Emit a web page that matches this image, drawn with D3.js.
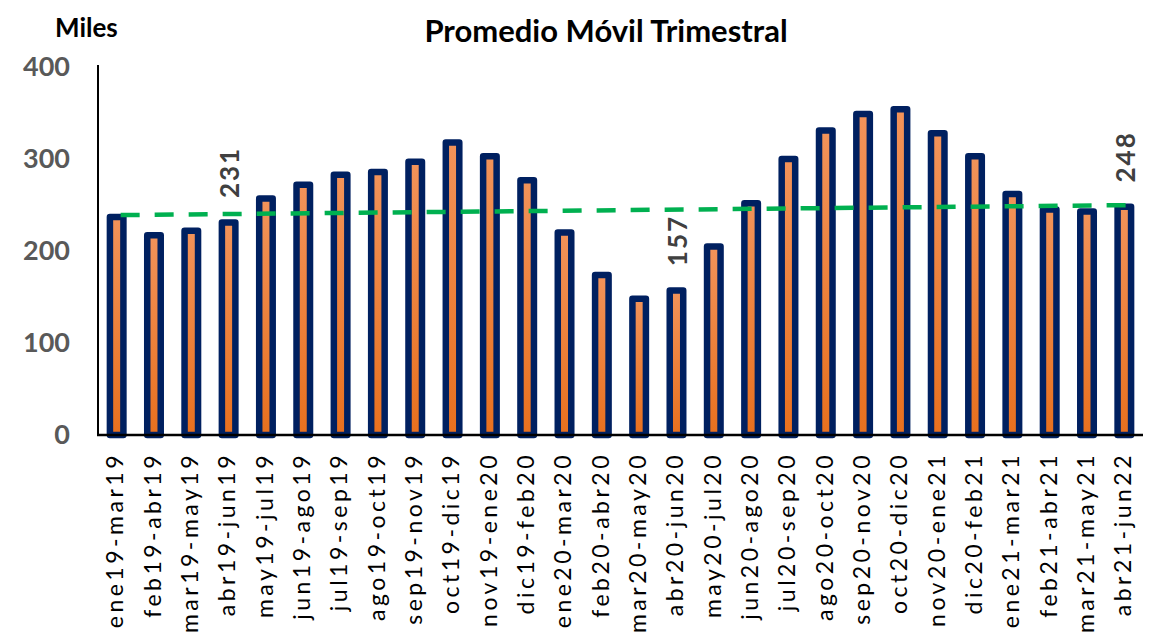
<!DOCTYPE html>
<html><head><meta charset="utf-8">
<script src="https://cdn.jsdelivr.net/npm/d3@7"></script>
<style>body{margin:0;background:#fff}svg{display:block}</style>
</head><body><svg id="c" width="1153" height="639"></svg>
<script>
const categories = ["ene19-mar19","feb19-abr19","mar19-may19","abr19-jun19","may19-jul19","jun19-ago19","jul19-sep19","ago19-oct19","sep19-nov19","oct19-dic19","nov19-ene20","dic19-feb20","ene20-mar20","feb20-abr20","mar20-may20","abr20-jun20","may20-jul20","jun20-ago20","jul20-sep20","ago20-oct20","sep20-nov20","oct20-dic20","nov20-ene21","dic20-feb21","ene21-mar21","feb21-abr21","mar21-may21","abr21-jun22"];
const values = [237,217,222,231,257,272,283,286,297,318,303,277,220,174,148,157,205,252,300,331,349,354,328,303,262,245,243,248];
const labeledCategories = ["abr19-jun19","abr20-jun20","abr21-jun22"];
const labeledValues = [231,157,248];
const trendCategories = ["ene19-mar19","abr21-jun22"];
const trendValues = [239,250];
const yTicks = [0,100,200,300,400];
const title = "Promedio Móvil Trimestral";
const unitLabel = "Miles";

const svg = d3.select("#c");
const x = d3.scaleBand().domain(categories).range([98,1143]).paddingInner(0).paddingOuter(0);
const y = d3.scaleLinear().domain([0,400]).range([435,67]);
const font = "Lato, 'Open Sans', sans-serif";

const defs = svg.append("defs");
const g = defs.append("linearGradient").attr("id","og").attr("x1",0).attr("y1",0).attr("x2",0).attr("y2",1);
g.append("stop").attr("offset","0%").attr("stop-color","#F2935A");
g.append("stop").attr("offset","100%").attr("stop-color","#E8701E");

// title
svg.append("text").attr("x",606).attr("y",42).attr("text-anchor","middle")
  .style("font-family",font).style("font-weight","bold").style("font-size","31px")
  .attr("fill","#000").text(title);
svg.append("text").attr("x",55).attr("y",37)
  .style("font-family",font).style("font-weight","bold").style("font-size","26px")
  .attr("fill","#000").text(unitLabel);

// y tick labels
svg.append("g").selectAll("text").data(yTicks).join("text")
  .attr("x",70).attr("y",d=>y(d)+2).attr("text-anchor","end").attr("dominant-baseline","middle")
  .style("font-family",font).style("font-weight","bold").style("font-size","27px")
  .attr("fill","#595959").text(d=>d);

// bars
const bw = 13.5;
svg.append("g").selectAll("rect").data(categories).join("rect")
  .attr("x",(d)=>x(d)+x.bandwidth()/2-bw/2)
  .attr("y",(d,i)=>y(values[i]))
  .attr("width",bw)
  .attr("height",(d,i)=>y(0)-y(values[i]))
  .attr("fill","url(#og)").attr("stroke","#002060").attr("stroke-width",6.5)
  .attr("stroke-linejoin","round");

// axes lines
svg.append("line").attr("x1",98).attr("x2",98).attr("y1",65).attr("y2",436).attr("stroke","#000").attr("stroke-width",2);
svg.append("line").attr("x1",97).attr("x2",1143).attr("y1",435).attr("y2",435).attr("stroke","#000").attr("stroke-width",2.5);

// trend line
const tx = c => x(c)+x.bandwidth()/2;
svg.append("line")
  .attr("x1",tx(trendCategories[0])+4).attr("y1",y(trendValues[0]))
  .attr("x2",tx(trendCategories[1])+16).attr("y2",y(trendValues[1]))
  .attr("stroke","#00B050").attr("stroke-width",4.5).attr("stroke-dasharray","19,15");

// data labels
svg.append("g").selectAll("text").data(labeledCategories).join("text")
  .attr("transform",(d,i)=>`translate(${tx(d)+4},${y(labeledValues[i])-50}) rotate(-90)`)
  .attr("text-anchor","middle").attr("dominant-baseline","middle")
  .style("font-family",font).style("font-weight","bold").style("font-size","26px")
  .style("letter-spacing","2px")
  .attr("fill","#404040").text((d,i)=>labeledValues[i]);

// x labels
svg.append("g").selectAll("text").data(categories).join("text")
  .attr("transform",d=>`translate(${tx(d)+1},452) rotate(-90)`)
  .attr("text-anchor","end").attr("dominant-baseline","middle")
  .style("font-family",font).style("font-size","23px")
  .style("letter-spacing","3.5px")
  .attr("fill","#000").text(d=>d);
</script></body></html>
